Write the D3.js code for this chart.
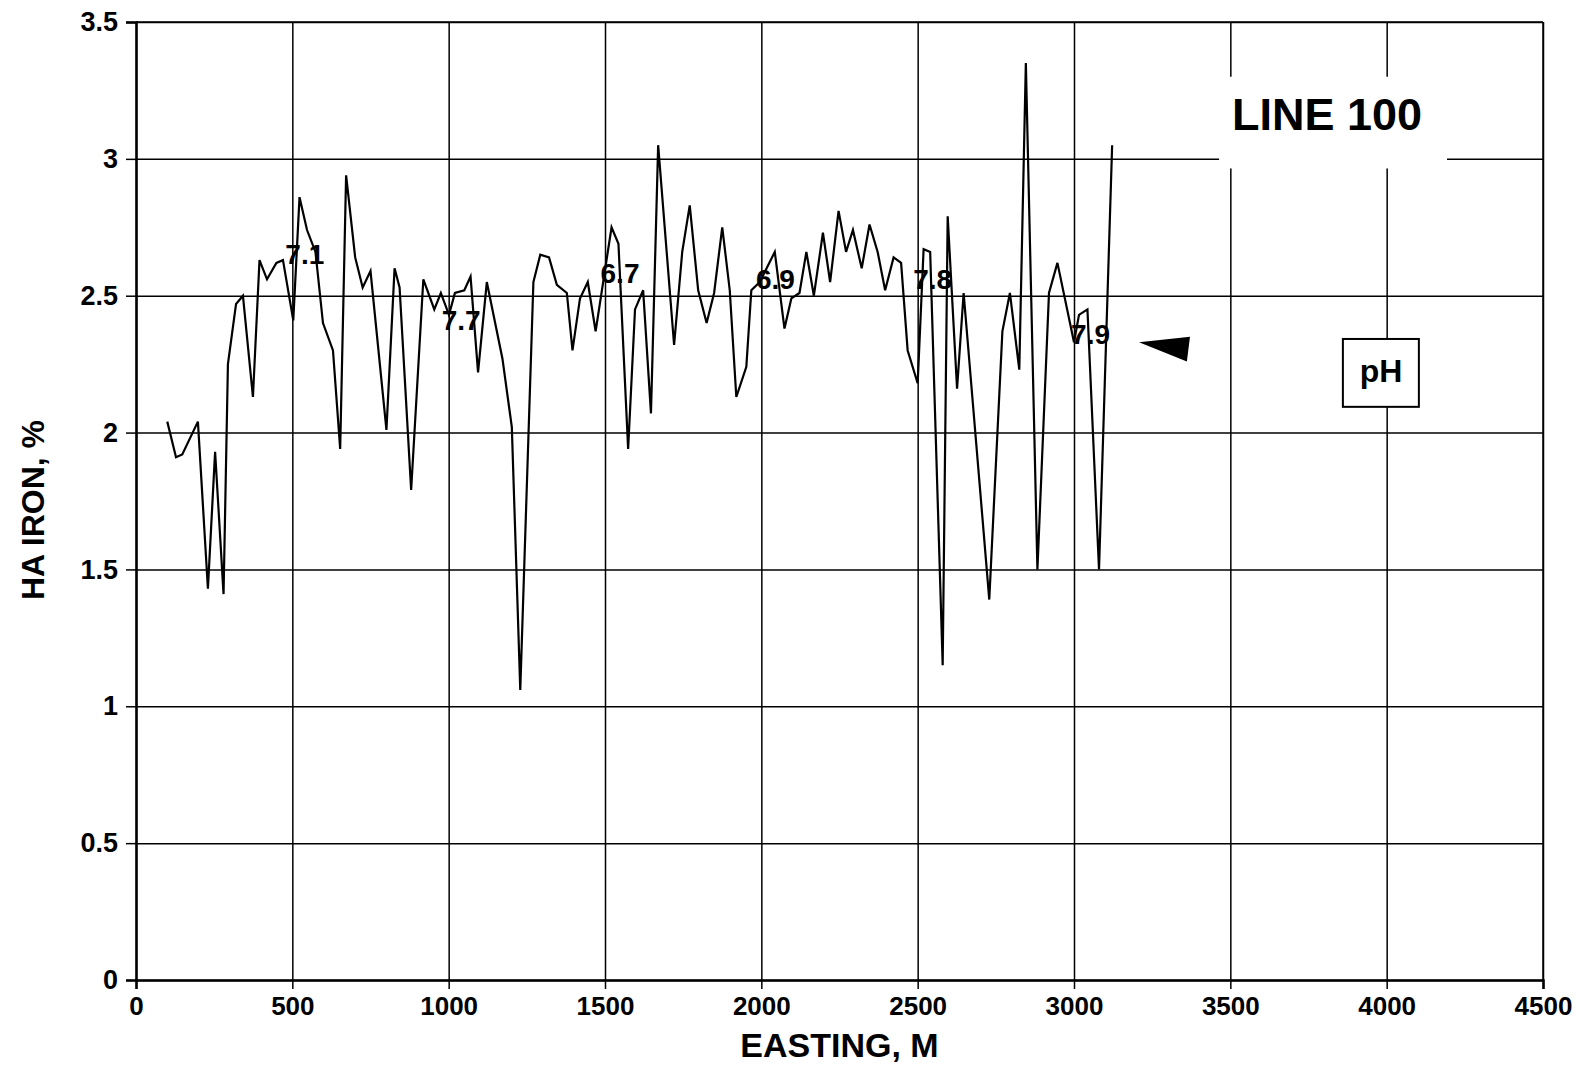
<!DOCTYPE html>
<html>
<head>
<meta charset="utf-8">
<script src="https://cdn.jsdelivr.net/npm/d3@7/dist/d3.min.js"></script>
<style>
  html, body { margin: 0; padding: 0; background: #fff; }
  svg { display: block; }
  text { font-family: "Liberation Sans", Arial, Helvetica, sans-serif; font-weight: bold; fill: #000; }
</style>
</head>
<body>
<svg id="chart" width="1591" height="1066"></svg>
<script>
// ---- data ----
const easting = [100,128,148,198,230,253,280,294,320,342,374,395,419,449,470,503,523,547,574,598,630,653,672,701,725,750,801,827,843,880,919,954,975,1001,1020,1050,1070,1094,1122,1172,1202,1229,1271,1293,1321,1346,1378,1396,1420,1445,1470,1521,1543,1574,1596,1622,1647,1670,1721,1747,1771,1798,1825,1849,1875,1899,1920,1952,1968,1995,2043,2074,2096,2122,2144,2168,2197,2220,2247,2271,2293,2321,2346,2372,2396,2423,2447,2468,2500,2519,2540,2580,2596,2626,2647,2729,2771,2795,2825,2846,2883,2920,2947,3000,3016,3043,3080,3122];
const haIron = [2.04,1.91,1.92,2.04,1.43,1.93,1.41,2.25,2.47,2.50,2.13,2.63,2.56,2.62,2.63,2.41,2.86,2.74,2.66,2.40,2.30,1.94,2.94,2.64,2.53,2.59,2.01,2.60,2.53,1.79,2.56,2.45,2.51,2.43,2.51,2.52,2.57,2.22,2.55,2.27,2.02,1.06,2.55,2.65,2.64,2.54,2.51,2.30,2.49,2.55,2.37,2.75,2.69,1.94,2.45,2.52,2.07,3.05,2.32,2.66,2.83,2.52,2.40,2.51,2.75,2.52,2.13,2.24,2.52,2.55,2.66,2.38,2.49,2.51,2.66,2.50,2.73,2.55,2.81,2.66,2.74,2.60,2.76,2.66,2.52,2.64,2.62,2.30,2.18,2.67,2.66,1.15,2.79,2.16,2.51,1.39,2.37,2.51,2.23,3.35,1.50,2.51,2.62,2.33,2.43,2.45,1.50,3.05];

const phLabels = ["7.1","7.7","6.7","6.9","7.8","7.9"];
const phEasting = [540,1040,1548,2045,2548,3053];
const phValue = [2.65,2.41,2.58,2.56,2.56,2.36];

const xTicks = [0,500,1000,1500,2000,2500,3000,3500,4000,4500];
const yTicks = [0,0.5,1,1.5,2,2.5,3,3.5];

const xTitle = "EASTING, M";
const yTitle = "HA IRON, %";
const chartTitle = "LINE 100";
const legendText = "pH";

// ---- layout ----
const svg = d3.select("#chart");
const L = 136, R = 1543, T = 22, B = 980;
const x = d3.scaleLinear().domain([0, 4500]).range([L, R]);
const y = d3.scaleLinear().domain([0, 3.5]).range([B, T]);

// gridlines
const gx = svg.append("g").attr("transform", `translate(0,${B})`)
  .call(d3.axisBottom(x).tickValues(xTicks).tickSize(-(B - T)).tickFormat(""));
gx.select(".domain").remove();
gx.selectAll("line").attr("stroke", "#000").attr("stroke-width", 1.5);

const gy = svg.append("g").attr("transform", `translate(${L},0)`)
  .call(d3.axisLeft(y).tickValues(yTicks).tickSize(-(R - L)).tickFormat(""));
gy.select(".domain").remove();
gy.selectAll("line").attr("stroke", "#000").attr("stroke-width", 1.5);

// white box behind title (masks gridlines)
svg.append("rect")
  .attr("x", x(3464)).attr("y", y(3.30))
  .attr("width", x(4193) - x(3464)).attr("height", y(2.965) - y(3.30))
  .attr("fill", "#fff");

// axes
const ax = svg.append("g").attr("transform", `translate(0,${B})`)
  .call(d3.axisBottom(x).tickValues(xTicks).tickSize(9).tickPadding(8).tickFormat(d3.format("d")));
ax.select(".domain").attr("stroke", "#000").attr("stroke-width", 2.5);
ax.selectAll("line").attr("stroke", "#000").attr("stroke-width", 1.5);
ax.selectAll("text").style("font-size", "26px").style("font-family", "'Liberation Sans', Arial, sans-serif").style("font-weight", "bold").attr("fill", "#000");

const ay = svg.append("g").attr("transform", `translate(${L},0)`)
  .call(d3.axisLeft(y).tickValues(yTicks).tickSize(10).tickPadding(8).tickFormat(d => d3.format("")(d)));
ay.select(".domain").attr("stroke", "#000").attr("stroke-width", 2.5);
ay.selectAll("line").attr("stroke", "#000").attr("stroke-width", 1.5);
ay.selectAll("text").style("font-size", "27px").style("font-family", "'Liberation Sans', Arial, sans-serif").style("font-weight", "bold").attr("fill", "#000");

// frame top/right
svg.append("line").attr("x1", L).attr("x2", R).attr("y1", T).attr("y2", T).attr("stroke", "#000").attr("stroke-width", 1.5);
svg.append("line").attr("x1", R).attr("x2", R).attr("y1", T).attr("y2", B).attr("stroke", "#000").attr("stroke-width", 1.5);

// data line
const data = easting.map((e, i) => ({ e, v: haIron[i] }));
svg.append("path").datum(data)
  .attr("fill", "none").attr("stroke", "#000").attr("stroke-width", 2.2).attr("stroke-linejoin", "miter")
  .attr("d", d3.line().x(d => x(d.e)).y(d => y(d.v)));

// pH labels on line
svg.append("g").selectAll("text").data(phLabels).join("text")
  .attr("x", (d, i) => x(phEasting[i]))
  .attr("y", (d, i) => y(phValue[i]))
  .attr("text-anchor", "middle").attr("dominant-baseline", "central")
  .style("font-size", "28px")
  .text(d => d);

// title
svg.append("text").attr("x", x(3809)).attr("y", y(3.105))
  .attr("text-anchor", "middle").style("font-size", "45px").text(chartTitle);

// pH legend box
svg.append("rect")
  .attr("x", x(3860)).attr("y", y(2.342))
  .attr("width", x(4103) - x(3860)).attr("height", y(2.094) - y(2.342))
  .attr("fill", "#fff").attr("stroke", "#000").attr("stroke-width", 2);
svg.append("text").attr("x", x(3982)).attr("y", y(2.185))
  .attr("text-anchor", "middle").style("font-size", "32px").text(legendText);

// arrow
const arrowPts = [[3208, 2.33], [3371, 2.35], [3361, 2.26]];
svg.append("path")
  .attr("d", d3.line()(arrowPts.map(p => [x(p[0]), y(p[1])])) + "Z")
  .attr("fill", "#000");

// axis titles
svg.append("text").attr("x", (L + R) / 2).attr("y", 1057)
  .attr("text-anchor", "middle").style("font-size", "34px").text(xTitle);
svg.append("text").attr("transform", `translate(44,510) rotate(-90)`)
  .attr("text-anchor", "middle").style("font-size", "32px").text(yTitle);
</script>
</body>
</html>
